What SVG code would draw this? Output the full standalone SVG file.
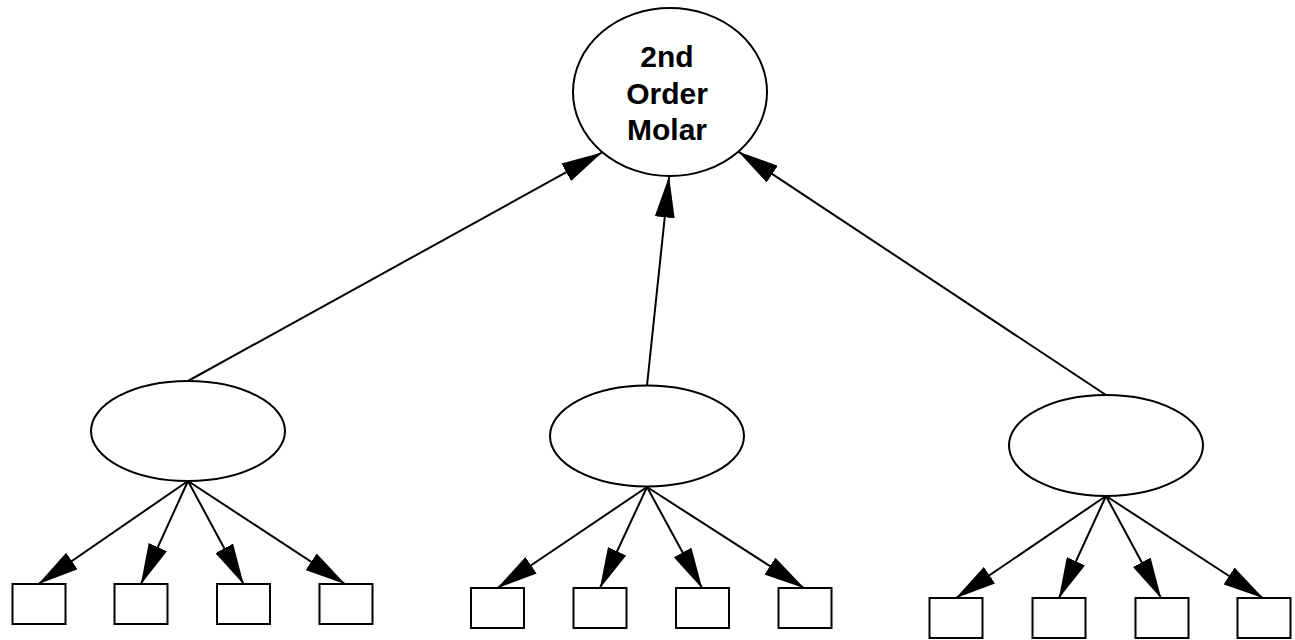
<svg xmlns="http://www.w3.org/2000/svg" width="1295" height="640" viewBox="0 0 1295 640">
<style>
.n{fill:#fff;stroke:#000;stroke-width:2}
.e{fill:none;stroke:#000;stroke-width:2;marker-end:url(#ah)}
.t{font-family:"Liberation Sans",Arial,sans-serif;font-weight:bold;font-size:30px;text-anchor:middle;fill:#000}
</style>
<defs>
<marker id="ah" viewBox="0 0 41 20" refX="40.5" refY="10" markerWidth="41" markerHeight="20" markerUnits="userSpaceOnUse" orient="auto">
<path d="M0,0 L41,10 L0,20 Z" fill="#000"/>
</marker>
</defs>
<rect width="1295" height="640" fill="#fff"/>
<g id="edges">
<line class="e" x1="188" y1="381" x2="601.7" y2="152.7"/>
<line class="e" x1="647" y1="385.5" x2="669" y2="177"/>
<line class="e" x1="1106" y1="395" x2="738.5" y2="151.7"/>
<line class="e" x1="188" y1="481" x2="38.5" y2="584"/>
<line class="e" x1="188" y1="481" x2="141" y2="584"/>
<line class="e" x1="188" y1="481" x2="243.5" y2="584"/>
<line class="e" x1="188" y1="481" x2="345" y2="584"/>
<line class="e" x1="647" y1="487" x2="497.5" y2="588"/>
<line class="e" x1="647" y1="487" x2="600" y2="588"/>
<line class="e" x1="647" y1="487" x2="702" y2="588"/>
<line class="e" x1="647" y1="487" x2="804" y2="588"/>
<line class="e" x1="1106" y1="496" x2="956" y2="598"/>
<line class="e" x1="1106" y1="496" x2="1059" y2="598"/>
<line class="e" x1="1106" y1="496" x2="1161" y2="598"/>
<line class="e" x1="1106" y1="496" x2="1263" y2="598"/>
</g>
<g id="molar2">
<ellipse class="n" cx="670" cy="92" rx="97" ry="84"/>
<text class="t" x="667" y="67">2nd</text>
<text class="t" x="667" y="104">Order</text>
<text class="t" x="667" y="140">Molar</text>
</g>
<g id="f1"><ellipse class="n" cx="188" cy="431" rx="97" ry="50"/></g>
<g id="f2"><ellipse class="n" cx="647" cy="436" rx="97" ry="50.5"/></g>
<g id="f3"><ellipse class="n" cx="1106" cy="445.5" rx="97" ry="50.5"/></g>
<g id="b1"><rect class="n" x="12.5" y="584" width="53" height="40"/></g>
<g id="b2"><rect class="n" x="114.5" y="584" width="53" height="40"/></g>
<g id="b3"><rect class="n" x="217" y="584" width="53" height="40"/></g>
<g id="b4"><rect class="n" x="319.5" y="584" width="53" height="40"/></g>
<g id="b5"><rect class="n" x="471" y="588" width="53" height="40"/></g>
<g id="b6"><rect class="n" x="573.5" y="588" width="53" height="40"/></g>
<g id="b7"><rect class="n" x="676" y="588" width="53" height="40"/></g>
<g id="b8"><rect class="n" x="778.5" y="588" width="53" height="40"/></g>
<g id="b9"><rect class="n" x="929.5" y="598" width="53" height="40"/></g>
<g id="b10"><rect class="n" x="1032.5" y="598" width="53" height="40"/></g>
<g id="b11"><rect class="n" x="1135.5" y="598" width="53" height="40"/></g>
<g id="b12"><rect class="n" x="1237.5" y="598" width="53" height="40"/></g>
</svg>
